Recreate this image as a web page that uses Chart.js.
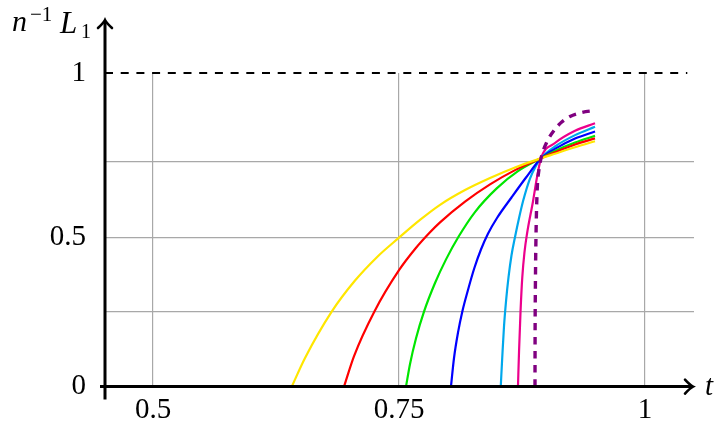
<!DOCTYPE html>
<html>
<head>
<meta charset="utf-8">
<script src="https://cdn.jsdelivr.net/npm/chart.js@4/dist/chart.umd.min.js"></script>
<style>
  html, body { margin: 0; padding: 0; background: #fff; }
  #wrap { width: 716px; height: 423px; }
</style>
</head>
<body>
<div id="wrap"><canvas id="chart"></canvas></div>
<script>
// ticks
var xTicks = [0.5, 0.75, 1];
var xTickLabels = ['0.5', '0.75', '1'];
var yTicks = [0, 0.239, 0.475, 0.717, 1];
var yTickLabels = ['0', '', '0.5', '', '1'];

// curves (t, n^-1 L1)
var yellowT = [0.641, 0.6545, 0.6816, 0.7053, 0.7273, 0.75, 0.7713, 0.7917, 0.8171, 0.8425, 0.8679, 0.8943, 0.9085, 0.9289, 0.9492];
var yellowY = [0, 0.0912, 0.239, 0.3381, 0.4119, 0.4748, 0.5314, 0.5796, 0.6267, 0.6651, 0.6987, 0.728, 0.7425, 0.7632, 0.7824];
var redT = [0.6941, 0.7043, 0.7249, 0.75, 0.7663, 0.7815, 0.7917, 0.8171, 0.8425, 0.8679, 0.8943, 0.9085, 0.9289, 0.9492];
var redY = [0, 0.0975, 0.239, 0.3711, 0.4387, 0.4921, 0.5236, 0.5896, 0.6447, 0.6903, 0.728, 0.7469, 0.772, 0.7915];
var greenT = [0.7571, 0.7612, 0.7673, 0.7754, 0.7866, 0.7978, 0.8103, 0.8272, 0.8493, 0.8709, 0.8943, 0.9085, 0.9289, 0.9492];
var greenY = [0, 0.0723, 0.1541, 0.239, 0.3302, 0.4057, 0.477, 0.5566, 0.6321, 0.6871, 0.728, 0.7516, 0.7783, 0.7997];
var blueT = [0.8028, 0.8059, 0.81, 0.8143, 0.8201, 0.8265, 0.8333, 0.8404, 0.8496, 0.8645, 0.8791, 0.8943, 0.9085, 0.9289, 0.9492];
var blueY = [0, 0.0912, 0.173, 0.239, 0.3082, 0.3774, 0.4371, 0.4874, 0.5377, 0.6038, 0.6667, 0.728, 0.7579, 0.7909, 0.8135];
var cyanT = [0.8534, 0.855, 0.8567, 0.8588, 0.8613, 0.8643, 0.8679, 0.872, 0.8763, 0.8831, 0.8887, 0.8943, 0.9085, 0.9289, 0.9492];
var cyanY = [0, 0.0975, 0.1918, 0.2736, 0.3491, 0.4182, 0.477, 0.5377, 0.5943, 0.6635, 0.7013, 0.728, 0.7657, 0.8019, 0.8283];
var magentaT = [0.8709, 0.872, 0.8735, 0.8753, 0.8775, 0.8801, 0.8862, 0.8902, 0.8943, 0.9085, 0.9289, 0.9492];
var magentaY = [0, 0.1132, 0.239, 0.3491, 0.4277, 0.4874, 0.5912, 0.6667, 0.728, 0.7767, 0.816, 0.8396];
var limitT = [0.8882, 0.8883, 0.8886, 0.8892, 0.8905, 0.8921, 0.8943, 0.9001, 0.9085, 0.9157, 0.9238, 0.936, 0.9492];
var limitY = [0, 0.1604, 0.3176, 0.477, 0.6321, 0.6887, 0.728, 0.7789, 0.8208, 0.8443, 0.8616, 0.8742, 0.8805];
var refLineT = [0.4512, 1.043];
var refLineY = [1, 1];

function pts(ts, ys) {
  return ts.map(function (t, i) { return { x: t, y: ys[i] }; });
}

function curve(ts, ys, color) {
  return {
    data: pts(ts, ys),
    borderColor: color,
    borderWidth: 2.2,
    pointRadius: 0,
    cubicInterpolationMode: 'monotone',
    fill: false
  };
}

var serif = '"Liberation Serif", "DejaVu Serif", serif';

// axes with arrow heads + axis titles
var axesPlugin = {
  id: 'axes',
  afterDraw: function (chart) {
    var ctx = chart.ctx;
    var a = chart.chartArea;
    var x0 = chart.scales.x.left;
    var y0 = chart.scales.y.getPixelForValue(0);
    ctx.save();
    ctx.strokeStyle = '#000';
    ctx.lineCap = 'butt';
    ctx.lineWidth = 3;
    ctx.beginPath();
    ctx.moveTo(x0 - 5, y0);
    ctx.lineTo(a.right - 2, y0);
    ctx.moveTo(x0, y0 + 13);
    ctx.lineTo(x0, a.top - 52);
    ctx.stroke();

    // arrow heads
    ctx.lineWidth = 2.6;
    ctx.lineCap = 'round';
    var tx = a.right - 1, ty = y0;
    ctx.beginPath();
    ctx.moveTo(tx - 8, ty - 7);
    ctx.quadraticCurveTo(tx - 3, ty - 1.5, tx, ty);
    ctx.quadraticCurveTo(tx - 3, ty + 1.5, tx - 8, ty + 7);
    ctx.stroke();
    var ux = x0, uy = a.top - 53;
    ctx.beginPath();
    ctx.moveTo(ux - 7, uy + 8);
    ctx.quadraticCurveTo(ux - 1.5, uy + 3, ux, uy);
    ctx.quadraticCurveTo(ux + 1.5, uy + 3, ux + 7, uy + 8);
    ctx.stroke();

    // titles
    ctx.fillStyle = '#000';
    ctx.textBaseline = 'alphabetic';
    ctx.textAlign = 'left';
    ctx.font = 'italic 29px ' + serif;
    ctx.fillText('t', 705, y0 + 8);
    ctx.font = 'italic 30px ' + serif;
    ctx.fillText('n', 12, 31);
    ctx.font = '21px ' + serif;
    ctx.fillText('\u22121', 30, 21);
    ctx.font = 'italic 31px ' + serif;
    ctx.fillText('L', 60, 33);
    ctx.font = '20px ' + serif;
    ctx.fillText('1', 81, 38);
    ctx.restore();
  }
};

var chart = new Chart(document.getElementById('chart'), {
  type: 'line',
  data: {
    datasets: [
      {
        data: pts(limitT, limitY),
        borderColor: '#800080',
        borderWidth: 3.4,
        borderDash: [7.5, 6.5],
        pointRadius: 0,
        cubicInterpolationMode: 'monotone',
        fill: false
      },
      curve(yellowT, yellowY, '#ffe600'),
      curve(redT, redY, '#ff0000'),
      curve(greenT, greenY, '#00e600'),
      curve(blueT, blueY, '#0000ff'),
      curve(cyanT, cyanY, '#00a8ec'),
      curve(magentaT, magentaY, '#ec008c'),
      {
        data: pts(refLineT, refLineY),
        borderColor: '#000',
        borderWidth: 2.2,
        borderDash: [8, 7.7],
        pointRadius: 0,
        fill: false,
        clip: 5
      }
    ]
  },
  options: {
    responsive: true,
    maintainAspectRatio: false,
    animation: false,
    layout: {
      padding: { left: 0, right: 22, top: 73, bottom: 0 }
    },
    plugins: {
      legend: { display: false },
      tooltip: { enabled: false }
    },
    scales: {
      x: {
        type: 'linear',
        min: 0.4512,
        max: 1.0498,
        afterBuildTicks: function (s) { s.ticks = xTicks.map(function (v) { return { value: v }; }); },
        afterFit: function (s) { s.height = 32; },
        border: { display: false },
        grid: { color: '#a8a8a8', lineWidth: 1.2, drawTicks: false },
        ticks: {
          autoSkip: false,
          maxRotation: 0,
          padding: 6,
          color: '#000',
          font: { family: serif, size: 29 },
          callback: function (v, i) { return xTickLabels[i]; }
        }
      },
      y: {
        type: 'linear',
        min: 0,
        max: 1,
        afterBuildTicks: function (s) { s.ticks = yTicks.map(function (v) { return { value: v }; }); },
        afterFit: function (s) { s.width = 105; },
        border: { display: false },
        grid: {
          lineWidth: 1.2,
          drawTicks: false,
          color: function (c) {
            var v = c.tick ? c.tick.value : null;
            return (v === 0 || v === 1) ? 'rgba(0,0,0,0)' : '#a8a8a8';
          }
        },
        ticks: {
          autoSkip: false,
          padding: 19,
          color: '#000',
          font: { family: serif, size: 29 },
          callback: function (v, i) { return yTickLabels[i]; }
        }
      }
    }
  },
  plugins: [axesPlugin]
});
</script>
</body>
</html>
